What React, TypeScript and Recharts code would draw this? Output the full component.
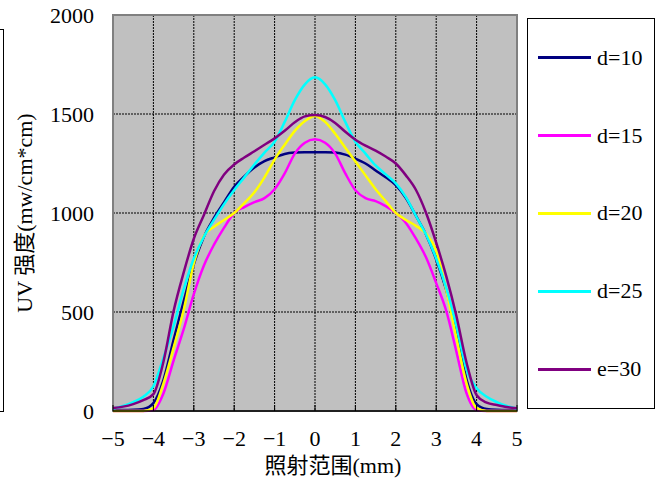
import { CartesianGrid, Label, Line, LineChart, ReferenceArea, XAxis, YAxis } from 'recharts';

const FONT = "'Liberation Serif', 'Times New Roman', 'DejaVu Serif', 'Noto Sans CJK SC', serif";

// positions along the irradiation range (mm)
const xs = [
  -5, -4.75, -4.5, -4.25, -4, -3.75, -3.5, -3.25, -3, -2.75, -2.5, -2.25, -2, -1.75, -1.5, -1.25, -1, -0.75, -0.5, -0.25,
  0, 0.25, 0.5, 0.75, 1, 1.25, 1.5, 1.75, 2, 2.25, 2.5, 2.75, 3, 3.25, 3.5, 3.75, 4, 4.25, 4.5, 4.75, 5,
];

const d10 = [
  5, 5, 6, 10, 40, 157, 360, 555, 740, 880, 975, 1055, 1133, 1185, 1230, 1262, 1281, 1298, 1305, 1307,
  1307, 1307, 1305, 1295, 1275, 1250, 1215, 1180, 1141, 1075, 985, 890, 765, 610, 410, 160, 35, 10, 6, 5, 5,
];
const d15 = [
  0, 0, 0, 0, 5, 90, 255, 413, 590, 735, 840, 926, 1000, 1030, 1055, 1075, 1120, 1200, 1300, 1355,
  1372, 1355, 1300, 1200, 1115, 1075, 1060, 1035, 1000, 950, 870, 775, 646, 505, 300, 90, 5, 0, 0, 0, 0,
];
const d20 = [
  0, 0, 0, 0, 15, 140, 320, 510, 745, 885, 930, 965, 1000, 1050, 1105, 1180, 1270, 1345, 1415, 1465,
  1490, 1460, 1400, 1330, 1260, 1190, 1120, 1060, 1000, 965, 935, 895, 810, 610, 370, 140, 15, 0, 0, 0, 0,
];
const d25 = [
  12, 25, 45, 72, 125, 270, 430, 615, 770, 880, 965, 1045, 1116, 1180, 1245, 1305, 1360, 1460, 1570, 1650,
  1685, 1650, 1570, 1460, 1360, 1300, 1240, 1195, 1150, 1080, 985, 890, 770, 620, 430, 210, 115, 72, 45, 25, 12,
];
const e30 = [
  15, 22, 35, 55, 85, 250, 505, 700, 870, 990, 1110, 1195, 1245, 1280, 1312, 1345, 1377, 1415, 1458, 1488,
  1495, 1485, 1455, 1410, 1370, 1340, 1315, 1285, 1250, 1190, 1116, 1000, 850, 680, 480, 245, 80, 42, 30, 20, 14,
];

const xTicks = [-5, -4, -3, -2, -1, 0, 1, 2, 3, 4, 5];
const yTicks = [0, 500, 1000, 1500, 2000];

const series = [
  { key: 'd10', name: 'd=10', color: '#000080' },
  { key: 'd15', name: 'd=15', color: '#FF00FF' },
  { key: 'd20', name: 'd=20', color: '#FFFF00' },
  { key: 'd25', name: 'd=25', color: '#00FFFF' },
  { key: 'e30', name: 'e=30', color: '#800080' },
];

const data = xs.map((x, i) => ({ x, d10: d10[i], d15: d15[i], d20: d20[i], d25: d25[i], e30: e30[i] }));

const tickStyle = { fill: '#000', fontSize: 22, fontFamily: FONT };

function SideLegend() {
  return (
    <div
      style={{
        position: 'absolute',
        left: 527,
        top: 18,
        width: 128,
        height: 391,
        boxSizing: 'border-box',
        border: '1px solid #000',
        background: '#fff',
        display: 'flex',
        flexDirection: 'column',
        justifyContent: 'space-around',
        fontFamily: FONT,
        fontSize: 22,
      }}
    >
      {series.map((s) => (
        <div key={s.key} style={{ display: 'flex', alignItems: 'center', paddingLeft: 10 }}>
          <span style={{ display: 'inline-block', width: 53, height: 3, background: s.color, marginRight: 6 }} />
          <span>{s.name}</span>
        </div>
      ))}
    </div>
  );
}

export default function App() {
  return (
    <div style={{ position: 'relative', width: 662, height: 483, background: '#fff', overflow: 'hidden' }}>
      <style>{'body{margin:0}'}</style>
      <div
        style={{
          position: 'absolute',
          left: -100,
          top: 29,
          width: 104,
          height: 383,
          boxSizing: 'border-box',
          border: '1px solid #000',
        }}
      />
      <LineChart width={662} height={483} data={data} margin={{ top: 15, right: 145, bottom: 42, left: 0 }}>
        <CartesianGrid fill="#C0C0C0" stroke="#000" strokeDasharray="2 1" horizontalValues={yTicks} verticalValues={xTicks} />
        <XAxis
          dataKey="x"
          type="number"
          domain={[-5, 5]}
          ticks={xTicks}
          height={30}
          tick={tickStyle}
          tickFormatter={(v) => String(v).replace('-', '\u2212')}
          tickSize={-6}
          tickMargin={25}
          tickLine={{ stroke: '#000' }}
          axisLine={{ stroke: '#000', strokeWidth: 1.5 }}
        >
          <Label value="照射范围(mm)" position="bottom" offset={16} dx={18} style={{ fill: '#000', fontSize: 22, fontFamily: FONT }} />
        </XAxis>
        <YAxis
          type="number"
          domain={[0, 2000]}
          ticks={yTicks}
          width={113}
          tick={tickStyle}
          tickLine={false}
          axisLine={false}
          tickSize={6}
          tickMargin={13}
        >
          <Label
            value="UV 强度(mw/cm*cm)"
            angle={-90}
            position="insideLeft"
            offset={24}
            style={{ fill: '#000', fontSize: 22, fontFamily: FONT, textAnchor: 'middle' }}
          />
        </YAxis>
        <ReferenceArea x1={-5} x2={5} y1={0} y2={2000} fill="none" stroke="#808080" strokeWidth={2} />
        {series.map((s) => (
          <Line
            key={s.key}
            type="monotone"
            dataKey={s.key}
            name={s.name}
            stroke={s.color}
            strokeWidth={2.5}
            dot={false}
            activeDot={false}
            isAnimationActive={false}
          />
        ))}
      </LineChart>
      <SideLegend />
    </div>
  );
}
